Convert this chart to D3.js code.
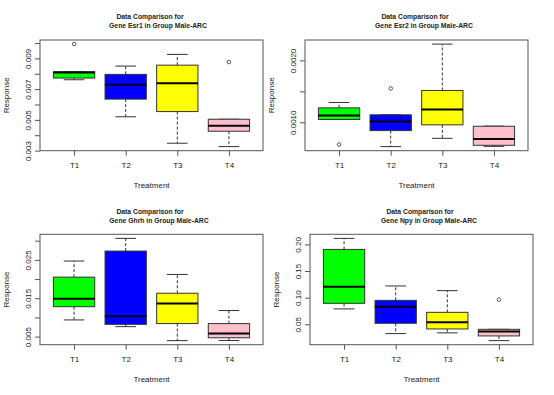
<!DOCTYPE html>
<html>
<head>
<meta charset="utf-8">
<script src="https://cdn.jsdelivr.net/npm/d3@7"></script>
<style>
  body { margin: 0; background: #fff; }
  svg { display: block; font-family: "Liberation Sans", Arial, sans-serif; }
</style>
</head>
<body>
<svg id="chart" width="554" height="395"></svg>
<script>
const treatments = ['T1', 'T2', 'T3', 'T4'];
const boxColors = ['#00ff00', '#0000ff', '#ffff00', '#ffc0cb'];
const genes = ['Esr1', 'Esr2', 'Ghrh', 'Npy'];

// boxplot stats per treatment: [lower whisker, q1, median, q3, upper whisker]
const esr1Stats = [
  [0.00761, 0.00772, 0.00809, 0.00813, 0.00813],
  [0.00520, 0.00635, 0.00729, 0.00796, 0.00850],
  [0.00348, 0.00554, 0.00739, 0.00856, 0.00926],
  [0.00326, 0.00426, 0.00461, 0.00504, 0.00504]
];
const esr1Outliers = [[0.00993], [], [], [0.00876]];
const esr1Ticks = [0.003, 0.004, 0.005, 0.006, 0.007, 0.008, 0.009, 0.010];
const esr1Labels = ['0.003', '', '0.005', '', '0.007', '', '0.009', ''];

const esr2Stats = [
  [0.001044, 0.001044, 0.001109, 0.001233, 0.001319],
  [0.000606, 0.000865, 0.001011, 0.001120, 0.001120],
  [0.000740, 0.000958, 0.001206, 0.001514, 0.002264],
  [0.000610, 0.000627, 0.000730, 0.000935, 0.000937]
];
const esr2Outliers = [[0.000639], [0.001546], [], []];
const esr2Ticks = [0.0010, 0.0015, 0.0020];
const esr2Labels = ['0.0010', '', '0.0020'];

const ghrhStats = [
  [0.00935, 0.0128, 0.0149, 0.0205, 0.0247],
  [0.0076, 0.0082, 0.0103, 0.0273, 0.0306],
  [0.00396, 0.0084, 0.0136, 0.0163, 0.0212],
  [0.0040, 0.0047, 0.0058, 0.0084, 0.0118]
];
const ghrhOutliers = [[], [], [], []];
const ghrhTicks = [0.005, 0.010, 0.015, 0.020, 0.025, 0.030];
const ghrhLabels = ['0.005', '', '0.015', '', '0.025', ''];

const npyStats = [
  [0.0789, 0.0894, 0.1207, 0.1906, 0.2113],
  [0.0326, 0.0519, 0.0832, 0.0950, 0.1220],
  [0.0339, 0.0413, 0.0538, 0.0725, 0.1132],
  [0.0194, 0.0282, 0.0363, 0.0406, 0.0406]
];
const npyOutliers = [[], [], [], [0.0963]];
const npyTicks = [0.05, 0.10, 0.15, 0.20];
const npyLabels = ['0.05', '0.10', '0.15', '0.20'];

const panels = [
  { gene: genes[0], stats: esr1Stats, outliers: esr1Outliers, ticks: esr1Ticks, labels: esr1Labels,
    left: 40, right: 263, top: 40, bottom: 150.7, t1: 150, t2: 158, ty: 18.5 },
  { gene: genes[1], stats: esr2Stats, outliers: esr2Outliers, ticks: esr2Ticks, labels: esr2Labels,
    left: 305, right: 528, top: 40, bottom: 150.7, t1: 415, t2: 424, ty: 18.5 },
  { gene: genes[2], stats: ghrhStats, outliers: ghrhOutliers, ticks: ghrhTicks, labels: ghrhLabels,
    left: 40, right: 263, top: 234.3, bottom: 344.7, t1: 150, t2: 159, ty: 214 },
  { gene: genes[3], stats: npyStats, outliers: npyOutliers, ticks: npyTicks, labels: npyLabels,
    left: 310, right: 533, top: 234.3, bottom: 344.7, t1: 420, t2: 429, ty: 214 }
];

const svg = d3.select('#chart');
const textColor = '#222';
const frameColor = '#555';

panels.forEach(p => {
  const g = svg.append('g');

  // R style: data range extended by 4% on each side
  const all = p.stats.flat().concat(p.outliers.flat());
  const [lo, hi] = d3.extent(all);
  const pad = (hi - lo) * 0.04;
  const y = d3.scaleLinear().domain([lo - pad, hi + pad]).range([p.bottom, p.top]);
  const x = d3.scaleLinear().domain([0.34, 4.66]).range([p.left, p.right]);
  const boxW = (x(1.4) - x(0.6));
  const capW = boxW / 2;

  // title
  g.append('text')
    .attr('x', p.t1).attr('y', p.ty)
    .attr('text-anchor', 'middle')
    .attr('font-size', 6.8).attr('font-weight', 'bold').attr('fill', textColor)
    .text('Data Comparison for');
  g.append('text')
    .attr('x', p.t2).attr('y', p.ty + 9)
    .attr('text-anchor', 'middle')
    .attr('font-size', 6.8).attr('font-weight', 'bold').attr('fill', textColor)
    .text(`Gene ${p.gene} in Group Male-ARC`);

  // boxes
  p.stats.forEach((s, i) => {
    const cx = x(i + 1);
    const [wLo, q1, med, q3, wHi] = s;
    const bg = g.append('g');

    bg.append('line')
      .attr('x1', cx).attr('x2', cx).attr('y1', y(q3)).attr('y2', y(wHi))
      .attr('stroke', '#333').attr('stroke-dasharray', '3,2');
    bg.append('line')
      .attr('x1', cx).attr('x2', cx).attr('y1', y(q1)).attr('y2', y(wLo))
      .attr('stroke', '#333').attr('stroke-dasharray', '3,2');
    [wLo, wHi].forEach(v => {
      bg.append('line')
        .attr('x1', cx - capW / 2).attr('x2', cx + capW / 2)
        .attr('y1', y(v)).attr('y2', y(v))
        .attr('stroke', '#333');
    });

    bg.append('rect')
      .attr('x', cx - boxW / 2).attr('width', boxW)
      .attr('y', y(q3)).attr('height', y(q1) - y(q3))
      .attr('fill', boxColors[i]).attr('stroke', '#333').attr('stroke-width', 1);

    bg.append('line')
      .attr('x1', cx - boxW / 2).attr('x2', cx + boxW / 2)
      .attr('y1', y(med)).attr('y2', y(med))
      .attr('stroke', '#000').attr('stroke-width', 2);

    p.outliers[i].forEach(v => {
      bg.append('circle')
        .attr('cx', cx).attr('cy', y(v)).attr('r', 1.8)
        .attr('fill', 'none').attr('stroke', '#333').attr('stroke-width', 0.8);
    });
  });

  // frame
  g.append('rect')
    .attr('x', p.left).attr('y', p.top)
    .attr('width', p.right - p.left).attr('height', p.bottom - p.top)
    .attr('fill', 'none').attr('stroke', frameColor);

  // y axis
  const yAxis = g.append('g')
    .attr('transform', `translate(${p.left},0)`)
    .call(d3.axisLeft(y).tickValues(p.ticks).tickSize(5).tickSizeOuter(0)
      .tickFormat((d, i) => p.labels[i]));
  yAxis.select('.domain').remove();
  yAxis.selectAll('.tick line').attr('stroke', frameColor);
  yAxis.selectAll('.tick text')
    .attr('transform', 'rotate(-90)')
    .attr('x', 0).attr('y', -9).attr('dy', null)
    .attr('text-anchor', 'middle')
    .attr('font-size', 8).attr('fill', textColor);

  // x axis
  const xAxis = g.append('g')
    .attr('transform', `translate(0,${p.bottom})`)
    .call(d3.axisBottom(x).tickValues([1, 2, 3, 4]).tickSize(5).tickSizeOuter(0)
      .tickFormat(d => treatments[d - 1]));
  xAxis.select('.domain').remove();
  xAxis.selectAll('.tick line').attr('stroke', frameColor);
  xAxis.selectAll('.tick text')
    .attr('y', 17).attr('dy', null)
    .attr('font-size', 8).attr('fill', textColor);

  // axis titles
  g.append('text')
    .attr('x', (p.left + p.right) / 2).attr('y', p.bottom + 37.5)
    .attr('text-anchor', 'middle')
    .attr('font-size', 8).attr('fill', textColor)
    .text('Treatment');
  g.append('text')
    .attr('transform', `translate(${p.left - 31},${(p.top + p.bottom) / 2}) rotate(-90)`)
    .attr('text-anchor', 'middle')
    .attr('font-size', 8).attr('fill', textColor)
    .text('Response');
});
</script>
</body>
</html>
